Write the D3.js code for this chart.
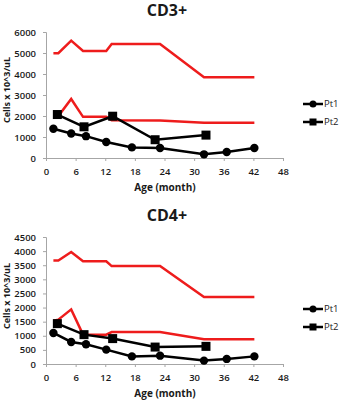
<!DOCTYPE html>
<html>
<head>
<meta charset="utf-8">
<script src="https://cdn.jsdelivr.net/npm/d3@7"></script>
<style>
  body { margin: 0; background: #fff; }
  text { font-family: "Open Sans", "Liberation Sans", sans-serif; fill: #1a1a1a; }
</style>
</head>
<body>
<div id="chart"></div>
<script>
// age (months) of each sample
var pt1Months = [1.5, 5.1, 8.1, 12.2, 17.4, 23.1, 32.0, 36.6, 42.2];
var pt2Months = [2.3, 7.7, 13.5, 22.1, 32.4];
var refMonths = [1.5, 2.5, 5.1, 7.5, 12.2, 13.3, 23.1, 32.0, 42.2];

// CD3+
var cd3Pt1 = [1390, 1170, 1040, 760, 505, 475, 175, 285, 475];
var cd3Pt2 = [2070, 1485, 1990, 870, 1090];
var cd3Upper = [4990, 4990, 5590, 5100, 5100, 5430, 5430, 3850, 3850];
var cd3Lower = [1950, 2000, 2810, 1960, 1960, 1800, 1790, 1675, 1675];

// CD4+
var cd4Pt1 = [1100, 780, 700, 510, 270, 295, 120, 180, 270];
var cd4Pt2 = [1430, 1040, 900, 600, 625];
var cd4Upper = [3670, 3670, 3970, 3640, 3640, 3470, 3470, 2375, 2375];
var cd4Lower = [1535, 1570, 1935, 1040, 1040, 1130, 1130, 875, 875];

var xTicks = [0, 6, 12, 18, 24, 30, 36, 42, 48];
var legendNames = ["Pt1", "Pt2"];

var width = 341, height = 400;
var svg = d3.select("#chart").append("svg")
    .attr("width", width)
    .attr("height", height);

function drawPanel(opts) {
    var g = svg.append("g");
    var x = d3.scaleLinear().domain([0, 48]).range([46, 283]);
    var y = d3.scaleLinear().domain([0, opts.yMax]).range([opts.bottom, opts.top]);

    g.append("text")
        .attr("x", 167).attr("y", opts.titleY)
        .attr("text-anchor", "middle")
        .style("font-size", "16px").style("font-weight", "bold")
        .text(opts.title);

    var yAxis = g.append("g")
        .attr("transform", "translate(46,0)")
        .call(d3.axisLeft(y)
            .tickValues(d3.range(0, opts.yMax + 1, opts.yStep))
            .tickFormat(d3.format("d"))
            .tickSize(3).tickPadding(7));
    var xAxis = g.append("g")
        .attr("transform", "translate(0," + opts.bottom + ")")
        .call(d3.axisBottom(x).tickValues(xTicks).tickFormat(d3.format("d")).tickSize(3).tickPadding(7));
    [yAxis, xAxis].forEach(function (a) {
        a.select(".domain").attr("stroke", "#a6a6a6");
        a.selectAll(".tick line").attr("stroke", "#a6a6a6");
        a.selectAll(".tick text")
            .style("font-size", "9.5px").style("font-weight", "600")
            .style("font-family", "'Open Sans', sans-serif").attr("fill", "#1a1a1a");
    });

    g.append("text")
        .attr("transform", "translate(10," + opts.yLabelY + ") rotate(-90)")
        .attr("text-anchor", "middle")
        .style("font-size", "9px").style("font-weight", "bold")
        .text("Cells x 10^3/uL");

    g.append("text")
        .attr("x", 165).attr("y", opts.bottom + 33)
        .attr("text-anchor", "middle")
        .style("font-size", "10px").style("font-weight", "bold")
        .text("Age (month)");

    var line = d3.line()
        .x(function (d) { return x(d[0]); })
        .y(function (d) { return y(d[1]); });

    [opts.upper, opts.lower].forEach(function (vals) {
        g.append("path")
            .datum(d3.zip(refMonths, vals))
            .attr("fill", "none")
            .attr("stroke", "#ee1c1c")
            .attr("stroke-width", 2.5)
            .attr("d", line);
    });

    var pt1 = d3.zip(pt1Months, opts.pt1);
    var pt2 = d3.zip(pt2Months, opts.pt2);
    [pt1, pt2].forEach(function (data) {
        g.append("path")
            .datum(data)
            .attr("fill", "none")
            .attr("stroke", "#000")
            .attr("stroke-width", 2.5)
            .attr("d", line);
    });
    g.selectAll(".c1").data(pt1).enter().append("circle")
        .attr("cx", function (d) { return x(d[0]); })
        .attr("cy", function (d) { return y(d[1]); })
        .attr("r", 4.2)
        .attr("fill", "#000");
    g.selectAll(".s2").data(pt2).enter().append("rect")
        .attr("x", function (d) { return x(d[0]) - 4.5; })
        .attr("y", function (d) { return y(d[1]) - 4.5; })
        .attr("width", 9).attr("height", 9)
        .attr("fill", "#000");

    // legend
    var leg = g.selectAll(".leg").data(legendNames).enter().append("g")
        .attr("transform", function (d, i) { return "translate(303," + (opts.legendY + i * 18) + ")"; });
    leg.append("line")
        .attr("x1", 0).attr("x2", 20)
        .attr("stroke", "#000").attr("stroke-width", 2.5);
    leg.each(function (d, i) {
        var s = d3.select(this);
        if (i === 0) {
            s.append("circle").attr("cx", 10).attr("r", 3.5).attr("fill", "#000");
        } else {
            s.append("rect").attr("x", 6.5).attr("y", -3.5).attr("width", 7).attr("height", 7).attr("fill", "#000");
        }
    });
    leg.append("text")
        .attr("x", 21).attr("dy", "0.35em")
        .style("font-size", "9.5px")
        .text(function (d) { return d; });
}

drawPanel({
    title: "CD3+", titleY: 16, top: 32, bottom: 158, yMax: 6000, yStep: 1000,
    yLabelY: 90, legendY: 104,
    pt1: cd3Pt1, pt2: cd3Pt2, upper: cd3Upper, lower: cd3Lower
});
drawPanel({
    title: "CD4+", titleY: 221, top: 237, bottom: 364, yMax: 4500, yStep: 500,
    yLabelY: 296, legendY: 309,
    pt1: cd4Pt1, pt2: cd4Pt2, upper: cd4Upper, lower: cd4Lower
});
</script>
</body>
</html>
